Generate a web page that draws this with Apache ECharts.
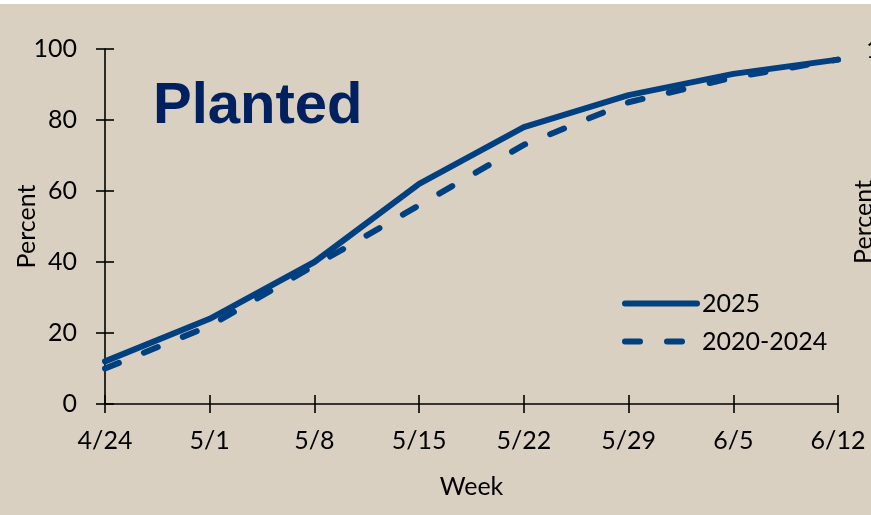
<!DOCTYPE html>
<html>
<head>
<meta charset="utf-8">
<script src="https://cdn.jsdelivr.net/npm/echarts@6/dist/echarts.min.js"></script>
<style>
html,body{margin:0;padding:0;background:#ffffff;}
#c{position:absolute;left:0;top:4px;width:871px;height:511px;}
</style>
</head>
<body>
<div id="c"></div>
<script>
const weeks = ['4/24','5/1','5/8','5/15','5/22','5/29','6/5','6/12'];
const planted2025 = [12, 24, 40, 62, 78, 87, 93, 97];
const planted2020_2024 = [10, 22, 39, 56, 73, 85, 92, 97];
const seriesNames = ['2025', '2020-2024'];
const yTicks = {min: 0, max: 100, interval: 20};

const FONT = 'Lato';
const BLUE = '#004080';
const chart = echarts.init(document.getElementById('c'));
const tickStyle = {color: '#000', width: 1.6};
chart.setOption({
  backgroundColor: '#d9d0c2',
  animation: false,
  textStyle: {fontFamily: FONT},
  grid: {left: 105, right: 33, top: 45, bottom: 111, containLabel: false, outerBoundsMode: 'none'},
  legend: {
    orient: 'vertical', left: 617, top: 282, itemWidth: 72, itemHeight: 14, itemGap: 13,
    textStyle: {fontFamily: FONT, fontSize: 25, color: '#000'},
    itemStyle: {opacity: 0},
    lineStyle: {width: 6, cap: 'round'},
    data: seriesNames
  },
  xAxis: [{
    type: 'category', data: weeks, boundaryGap: false,
    axisLine: {lineStyle: {color: '#000', width: 1.6}},
    axisTick: {alignWithLabel: true, length: 9, lineStyle: tickStyle},
    axisLabel: {fontFamily: FONT, fontSize: 25, color: '#000', margin: 24},
    name: 'Week', nameLocation: 'middle', nameGap: 70, nameMoveOverlap: false,
    nameTextStyle: {fontFamily: FONT, fontSize: 25, color: '#000'}
  }, {
    type: 'category', data: weeks, boundaryGap: false, position: 'bottom',
    axisLine: {show: false},
    axisTick: {inside: true, length: 9, lineStyle: tickStyle},
    axisLabel: {show: false}
  }],
  yAxis: [{
    type: 'value', min: yTicks.min, max: yTicks.max, interval: yTicks.interval,
    splitLine: {show: false},
    axisLine: {show: true, lineStyle: {color: '#000', width: 1.6}},
    axisTick: {show: true, length: 9, lineStyle: tickStyle},
    axisLabel: {fontFamily: FONT, fontSize: 25, color: '#000', margin: 28},
    name: 'Percent', nameLocation: 'middle', nameGap: 66, nameMoveOverlap: false,
    nameTextStyle: {fontFamily: FONT, fontSize: 25, color: '#000'}
  }, {
    type: 'value', min: yTicks.min, max: yTicks.max, interval: yTicks.interval, position: 'left',
    splitLine: {show: false},
    axisLine: {show: false},
    axisTick: {show: true, inside: true, length: 9, lineStyle: tickStyle},
    axisLabel: {show: false}
  }],
  graphic: [
    {type: 'text', left: 153, top: 74, style: {text: 'Planted', font: 'bold 58px "Liberation Sans"', fill: '#002060'}},
    {type: 'text', left: 866, top: 33, style: {text: '100', font: '25px Lato', fill: '#000'}},
    {type: 'text', x: 876, y: 218, rotation: Math.PI / 2, style: {text: 'Percent', font: '25px Lato', fill: '#000', align: 'center', verticalAlign: 'bottom'}}
  ],
  series: [{
    name: seriesNames[0], type: 'line', data: planted2025, symbol: 'none',
    lineStyle: {color: BLUE, width: 6, cap: 'round', join: 'round'}, itemStyle: {color: BLUE}
  }, {
    name: seriesNames[1], type: 'line', data: planted2020_2024, symbol: 'none',
    lineStyle: {color: BLUE, width: 6, type: [15, 27], cap: 'round', join: 'round'}, itemStyle: {color: BLUE}
  }]
});
</script>
</body>
</html>
